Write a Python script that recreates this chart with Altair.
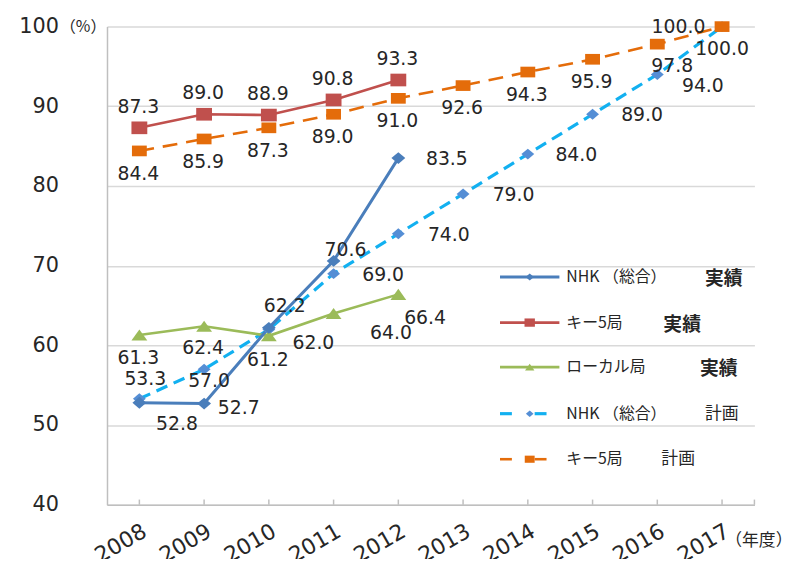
import altair as alt
import pandas as pd

# ---------------- data ----------------
years = [2008, 2009, 2010, 2011, 2012, 2013, 2014, 2015, 2016, 2017]
actual_years = [2008, 2009, 2010, 2011, 2012]
nhk_actual = [52.8, 52.7, 62.2, 70.6, 83.5]
key5_actual = [87.3, 89.0, 88.9, 90.8, 93.3]
local_actual = [61.3, 62.4, 61.2, 64.0, 66.4]
nhk_plan = [53.3, 57.0, 62.0, 69.0, 74.0, 79.0, 84.0, 89.0, 94.0, 100.0]
key5_plan = [84.4, 85.9, 87.3, 89.0, 91.0, 92.6, 94.3, 95.9, 97.8, 100.0]
y_ticks = [40, 50, 60, 70, 80, 90, 100]
legend_names = ["NHK （総合）", "キー5局", "ローカル局", "NHK （総合）", "キー5局"]
legend_status = ["実績", "実績", "実績", "計画", "計画"]

# ---------------- styles ----------------
W, H = 654, 483
PX_PER_YEAR = W / 10.0
PX_PER_UNIT = H / 60.0

DIAMOND = "M-1,0L0,-0.85L1,0L0,0.85Z"
SQUARE = "M-1,-0.8H1V0.8H-1Z"
SQUARE2 = "M-1,-0.72H1V0.72H-1Z"
TRI = "M-1,0.7L0,-0.7L1,0.7Z"

series = [
    # key, years, values, line colour, dash, width, marker shape, marker colour, size
    ("nhk_plan", years, nhk_plan, "#12B0F0", [12, 7], 3.2, DIAMOND, "#558ED5", 169),
    ("key5_plan", years, key5_plan, "#E46C0A", [15, 9], 2.6, SQUARE2, "#E46C0A", 225),
    ("local", actual_years, local_actual, "#9BBB59", None, 2.6, TRI, "#9BBB59", 256),
    ("key5", actual_years, key5_actual, "#C0504D", None, 2.6, SQUARE, "#C0504D", 256),
    ("nhk", actual_years, nhk_actual, "#4A7EBB", None, 3.0, DIAMOND, "#4A7EBB", 196),
]

# label offsets in pixels (dx, dy) of label centre from the marker
placement = {
    "key5": [(-1, -21)] * 5,
    "key5_plan": [(-1, 23)] * 8 + [(15, 22), (-44, 0)],
    "nhk_plan": [(6, -20), (5, 12), (45, 14), (50, 1), (51, 1), (51, 1), (49, 1),
                 (50, 1), (46, 12), (0, 23)],
    "nhk": [(38, 22), (35, 5), (16, -22), (12, -11), (49, 1)],
    "local": [(-1, 23), (-1, 22), (-1, 24), (58, 20), (27, 24)],
}

FONT_NUM = "DejaVu Sans"
FONT_JP = "Noto Sans CJK JP"
TXT = "#262626"
GRAY = "#BFBFBF"

xscale = alt.Scale(domain=[2007.5, 2017.5], nice=False, zero=False)
yscale = alt.Scale(domain=[40, 100], nice=False, zero=False)

x_axis = alt.Axis(values=years, format="d", labelAngle=-30, labelAlign="right",
                  labelBaseline="top", labelPadding=16, labelFontSize=22,
                  labelFont=FONT_NUM, labelColor=TXT, ticks=False, grid=False,
                  domainColor=GRAY, domainWidth=1.5, labelFlush=False,
                  labelOverlap=False, title="（年度）", titleX=624, titleY=36,
                  titleAlign="left", titleBaseline="middle", titleAngle=0,
                  titleFont=FONT_JP, titleFontSize=17, titleFontWeight="normal",
                  titleColor=TXT)
y_axis = alt.Axis(values=y_ticks, labelFontSize=21, labelFont=FONT_NUM,
                  labelColor=TXT, labelPadding=49, ticks=False, grid=True,
                  gridColor="#D9D9D9", gridWidth=1.5, domainColor=GRAY,
                  domainWidth=1.5, title="（%）", titleX=-48, titleY=0,
                  titleAngle=0, titleAlign="left", titleBaseline="middle",
                  titleFont=FONT_JP, titleFontSize=16, titleFontWeight="normal",
                  titleColor=TXT)


def X(field):
    return alt.X(field, type="quantitative", scale=xscale, axis=x_axis)


def Y(field):
    return alt.Y(field, type="quantitative", scale=yscale, axis=y_axis)


layers = []

# axis tick marks pointing up into the plot
tick_df = pd.DataFrame({"year": years + [2017.5]})
layers.append(
    alt.Chart(tick_df).mark_rule(color=GRAY, strokeWidth=1.5).encode(
        x=X("year"), y=Y("a"), y2="b"
    ).transform_calculate(a="40", b="40.65")
)

frames = {}
for key, yrs, vals, lc, dash, lw, shape, mc, size in series:
    frames[key] = pd.DataFrame({"year": yrs, "value": vals})

# lines
for key, yrs, vals, lc, dash, lw, shape, mc, size in series:
    kw = dict(color=lc, strokeWidth=lw)
    if dash:
        kw["strokeDash"] = dash
    layers.append(alt.Chart(frames[key]).mark_line(**kw).encode(x=X("year"), y=Y("value")))

# markers
for key, yrs, vals, lc, dash, lw, shape, mc, size in series:
    layers.append(
        alt.Chart(frames[key]).mark_point(filled=True, shape=shape, size=size,
                                          color=mc, opacity=1, strokeWidth=0)
        .encode(x=X("year"), y=Y("value"))
    )

# data labels
rows = []
for key, yrs, vals, lc, dash, lw, shape, mc, size in series:
    for (yr, v), (dx, dy) in zip(zip(yrs, vals), placement[key]):
        rows.append({"lx": yr + dx / PX_PER_YEAR, "ly": v - dy / PX_PER_UNIT,
                     "txt": f"{v:.1f}"})
lab_df = pd.DataFrame(rows)
layers.append(
    alt.Chart(lab_df).mark_text(font=FONT_NUM, fontSize=19, color=TXT,
                                align="center", baseline="middle")
    .encode(x=X("lx"), y=Y("ly"), text="txt:N")
)

# ---------------- legend (manual, inside the plot) ----------------
dummy = pd.DataFrame({"d": [0]})
leg_y = [253, 299, 344, 391, 437]
leg_status_x = [604, 562, 599, 604, 560]
leg_style = [series[4], series[3], series[2], series[0], series[1]]
leg_marker_size = [70, 110, 90, 60, 100]
for i in range(5):
    key, yrs, vals, lc, dash, lw, shape, mc, size = leg_style[i]
    yy = leg_y[i]
    if dash:
        segs = [(397, 409), (432, 444)]
    else:
        segs = [(397, 457)]
    for a, b in segs:
        layers.append(alt.Chart(dummy).mark_rule(color=lc, strokeWidth=lw).encode(
            x=alt.value(a), x2=alt.value(b), y=alt.value(yy)))
    layers.append(alt.Chart(dummy).mark_point(filled=True, shape=shape,
                                              size=leg_marker_size[i], color=mc,
                                              opacity=1, strokeWidth=0)
                  .encode(x=alt.value(427), y=alt.value(yy)))
    layers.append(alt.Chart(dummy).mark_text(text=legend_names[i], font=FONT_JP,
                                             fontSize=16, color=TXT, align="left",
                                             baseline="middle")
                  .encode(x=alt.value(464), y=alt.value(yy)))
    bold = legend_status[i] == "実績"
    layers.append(alt.Chart(dummy).mark_text(text=legend_status[i], font=FONT_JP,
                                             fontSize=19 if bold else 17,
                                             fontWeight="bold" if bold else "normal",
                                             color=TXT, align="left", baseline="middle")
                  .encode(x=alt.value(leg_status_x[i]), y=alt.value(yy + (2 if bold else 0))))

chart = alt.layer(*layers).properties(
    width=W, height=H,
    autosize=alt.AutoSizeParams(type="none"),
    padding={"left": 100, "top": 16, "right": 42, "bottom": 52},
    background="white",
).configure_view(stroke=None)

chart.save("out.html", embed_options={"renderer": "svg", "actions": False})
